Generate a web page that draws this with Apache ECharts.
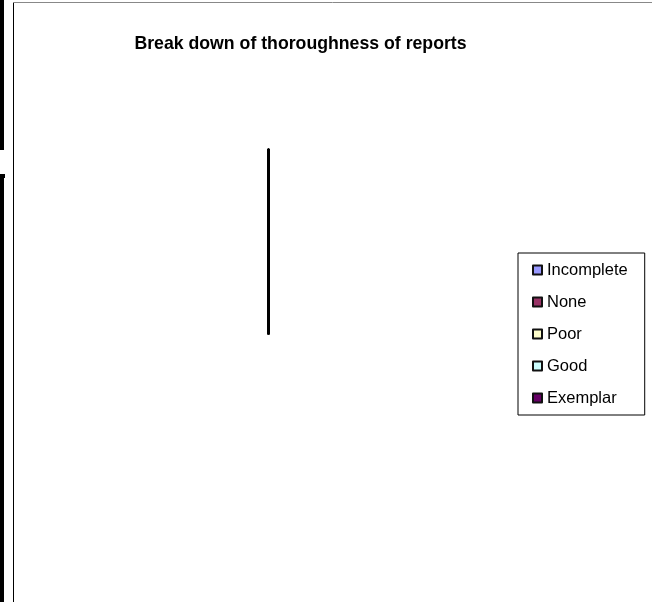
<!DOCTYPE html>
<html>
<head>
<meta charset="utf-8">
<style>
  html, body { margin: 0; padding: 0; background: #ffffff; }
  #chart { width: 652px; height: 602px; }
</style>
<script src="https://cdn.jsdelivr.net/npm/echarts@6/dist/echarts.min.js"></script>
</head>
<body>
<div id="chart"></div>
<script>
// ---- data ----
var titleText = 'Break down of thoroughness of reports';
var categories = ['Incomplete', 'None', 'Poor', 'Good', 'Exemplar'];
var values = [0, 0, 0, 0, 0];
var colors = ['#9999ff', '#993366', '#ffffcc', '#ccffff', '#660066'];

var chart = echarts.init(document.getElementById('chart'), null, { renderer: 'canvas' });

var pieData = categories.map(function (c, i) {
  return { name: c, value: values[i], itemStyle: { color: colors[i] } };
});

var option = {
  backgroundColor: '#ffffff',
  animation: false,
  color: colors,
  title: {
    text: titleText,
    left: 295.5,
    textAlign: 'center',
    top: 30,
    textStyle: { fontFamily: 'Liberation Sans, Arial, sans-serif', fontWeight: 'bold', fontSize: 17.7, color: '#000' }
  },
  legend: {
    orient: 'vertical',
    left: 518,
    top: 253,
    padding: [8, 17, 8, 14],
    itemGap: 14,
    itemWidth: 9,
    itemHeight: 9,
    icon: 'rect',
    borderColor: '#000',
    borderWidth: 1,
    backgroundColor: '#fff',
    data: categories,
    itemStyle: { borderColor: '#111', borderWidth: 2 },
    textStyle: { fontFamily: 'Liberation Sans, Arial, sans-serif', fontSize: 16.5, lineHeight: 18, color: '#000' },
    selectedMode: false
  },
  graphic: [
    { type: 'rect', shape: { x: 0, y: 0, width: 4, height: 150 }, style: { fill: '#000' }, silent: true },
    { type: 'rect', shape: { x: 0, y: 174, width: 4, height: 428 }, style: { fill: '#000' }, silent: true },
    { type: 'rect', shape: { x: 0, y: 174, width: 5, height: 4 }, style: { fill: '#000' }, silent: true },
    { type: 'line', shape: { x1: 13.5, y1: 2, x2: 13.5, y2: 602 }, style: { stroke: '#000', lineWidth: 1 }, silent: true },
    { type: 'line', shape: { x1: 13, y1: 2.5, x2: 652, y2: 2.5 }, style: { stroke: '#888', lineWidth: 1 }, silent: true }
  ],
  series: [{
    type: 'pie',
    center: [268.5, 333],
    radius: 183,
    startAngle: 90,
    clockwise: true,
    stillShowZeroSum: false,
    showEmptyCircle: false,
    avoidLabelOverlap: false,
    label: { show: false },
    labelLine: { show: false },
    itemStyle: { borderColor: '#000', borderWidth: 3 },
    emphasis: { disabled: true },
    data: pieData
  }]
};
chart.setOption(option);
</script>
</body>
</html>
